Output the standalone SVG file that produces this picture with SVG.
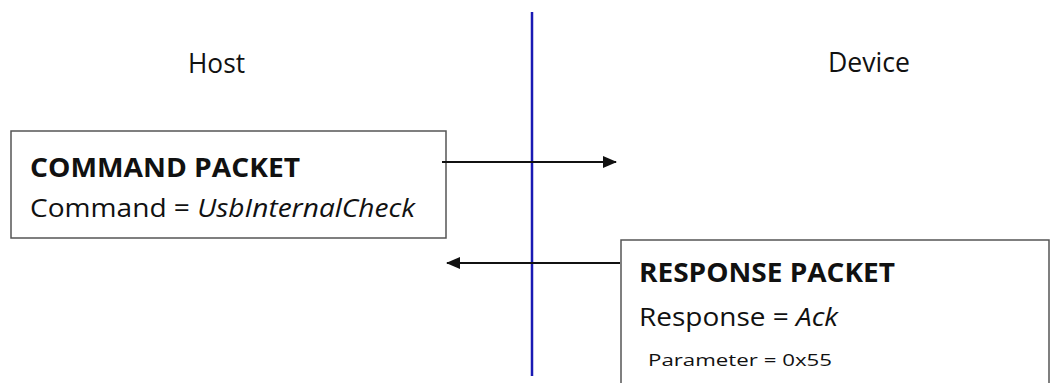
<svg xmlns="http://www.w3.org/2000/svg" width="1052" height="383" viewBox="0 0 1052 383">
<style>
text{font-family:"Open Sans","Noto Sans",sans-serif;fill:#111}
.box{fill:#fff;stroke:#555;stroke-width:1.5}
.lbl{font-size:27px}
.hd{font-size:27px;font-weight:bold}
.ln{font-size:26px}
.sm{font-size:17px}
.arr{stroke:#111;stroke-width:2;fill:none;marker-end:url(#ah)}
</style>
<defs>
<marker id="ah" viewBox="0 0 14 12" refX="13" refY="6" markerWidth="14" markerHeight="12" markerUnits="userSpaceOnUse" orient="auto"><path d="M0,0L14,6L0,12z" fill="#111"/></marker>
</defs>
<rect width="1052" height="383" fill="#fff"/>
<text class="lbl" x="188" y="73" textLength="57" lengthAdjust="spacingAndGlyphs">Host</text>
<text class="lbl" x="828" y="72" textLength="82" lengthAdjust="spacingAndGlyphs">Device</text>
<g id="command">
<rect class="box" x="11" y="131" width="435" height="107"/>
<text class="hd" x="30" y="177" textLength="270" lengthAdjust="spacingAndGlyphs">COMMAND PACKET</text>
<text class="ln" x="30" y="217" textLength="385" lengthAdjust="spacingAndGlyphs">Command = <tspan font-style="italic">UsbInternalCheck</tspan></text>
</g>
<g id="response">
<rect class="box" x="621" y="240" width="428" height="160"/>
<text class="hd" x="639" y="282" textLength="256" lengthAdjust="spacingAndGlyphs">RESPONSE PACKET</text>
<text class="ln" x="639" y="326" textLength="199" lengthAdjust="spacingAndGlyphs">Response = <tspan font-style="italic">Ack</tspan></text>
<text class="sm" x="648" y="366" textLength="184" lengthAdjust="spacingAndGlyphs">Parameter = 0x55</text>
</g>
<g id="connectors">
<line x1="532" y1="12" x2="532" y2="376" stroke="#1a1ab4" stroke-width="2.5"/>
<line class="arr" x1="442" y1="162" x2="616" y2="162"/>
<line class="arr" x1="620" y1="263" x2="447" y2="263"/>
</g>
</svg>
